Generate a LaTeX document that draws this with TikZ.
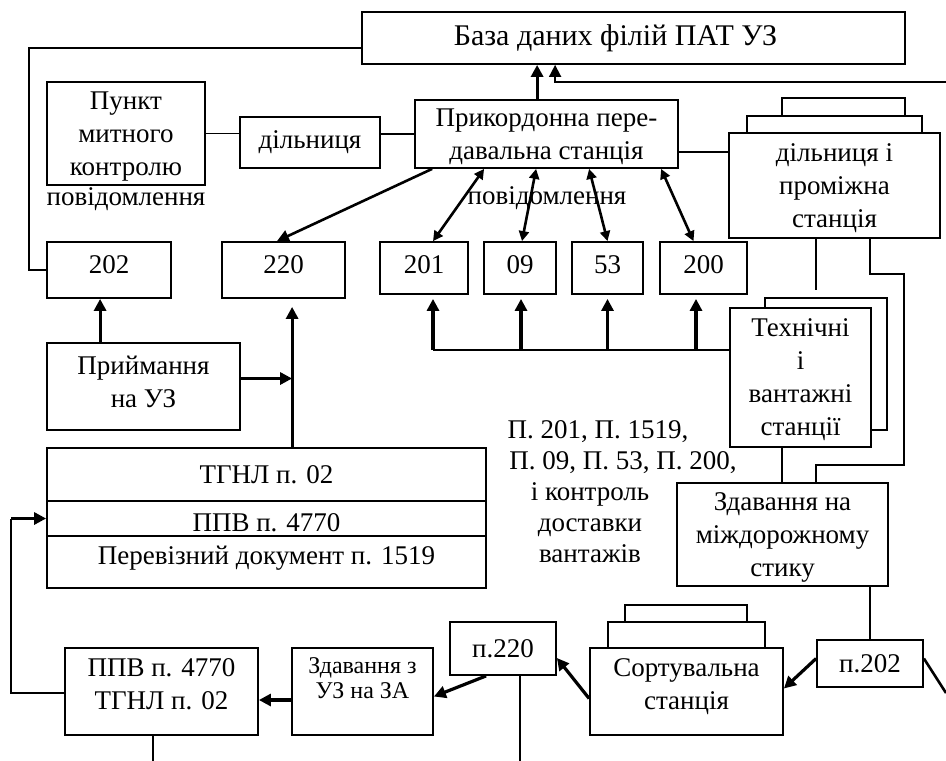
\documentclass[tikz,border=0pt]{standalone}
\usepackage{fontspec}
\setmainfont{Liberation Serif}
\usetikzlibrary{arrows.meta,calc}
\newcommand\boxfont{\fontsize{13.5}{16.5}\selectfont}
\newcommand\titlefont{\fontsize{15}{17}\selectfont}
\newcommand\smallboxfont{\fontsize{12}{12.5}\selectfont}
\begin{document}
\begin{tikzpicture}[x=0.5pt,y=-0.5pt,
  box/.style={draw, line width=0.9pt, inner sep=0pt, fill=white, align=center, font=\boxfont},
  layer/.style={draw, line width=0.9pt, fill=white},
  wire/.style={line width=0.9pt},
  bold/.style={line width=1.6pt, -{Triangle[length=6pt,width=6pt]}},
  dual/.style={line width=1.3pt, {Triangle[length=5pt,width=5pt]}-{Triangle[length=5pt,width=5pt]}},
  txt/.style={align=center, font=\boxfont, inner sep=0pt}]
\useasboundingbox (0,0) rectangle (946,760);

% ---- top row ----
\node[box, font=\titlefont, minimum width=271.5pt, minimum height=26pt] (db) at (633.5,38) {База даних філій ПАТ УЗ\hspace*{18pt}};
\node[box, minimum width=79pt, minimum height=51.5pt, text depth=-2pt] (pm) at (126,133.5) {Пункт\\митного\\контролю};
\node[txt] (pmmsg) at (126,199) {повідомлення};
\node[box, minimum width=70pt, minimum height=25.5pt] (dl) at (310,142.5) {дільниця};
\node[box, minimum width=131.5pt, minimum height=34pt, text depth=-5pt] (pk) at (546.5,134) {Прикордонна пере-\\давальна станція};
\draw[layer] (782,98) rectangle (905,140);
\draw[layer] (747,116) rectangle (922,140);
\node[box, minimum width=105.5pt, minimum height=52.5pt, text depth=-3pt] (dp) at (834.5,185.5) {дільниця і\\проміжна\\станція};

% ---- message boxes ----
\node[box, minimum width=62pt, minimum height=28pt, text depth=5pt] (n202) at (109,270) {202};
\node[box, minimum width=61.5pt, minimum height=28pt, text depth=5pt] (n220) at (283.5,270) {220};
\node[box, minimum width=44pt, minimum height=26pt, text depth=3pt] (n201) at (424,268) {201};
\node[box, minimum width=36pt, minimum height=26pt, text depth=3pt] (n09) at (520,268) {09};
\node[box, minimum width=35.5pt, minimum height=26pt, text depth=3pt] (n53) at (607.5,268) {53};
\node[box, minimum width=43.5pt, minimum height=26pt, text depth=3pt] (n200) at (703.5,268) {200};
\node[txt] (msg) at (547,198) {повідомлення};

% ---- middle ----
\node[box, minimum width=96.5pt, minimum height=43.5pt, text depth=4.5pt] (pr) at (143.5,386.5) {Приймання\\на УЗ};
\draw[layer] (765,298) rectangle (887,430);
\node[box, minimum width=70.5pt, minimum height=69.5pt, text depth=0pt] (ts) at (800.5,377.5) {Технічні\\і\\вантажні\\станції};
\node[box, minimum width=219.5pt, minimum height=26.5pt] (t1) at (266.5,474.5) {ТГНЛ п. 02};
\node[box, minimum width=219.5pt, minimum height=17.5pt, text height=13.5pt] (t2) at (266.5,518.5) {ППВ п. 4770};
\node[box, minimum width=219.5pt, minimum height=26pt, text depth=7pt] (t3) at (266.5,562) {Перевізний документ п. 1519};
\node[txt, font=\fontsize{13.5}{15.5}\selectfont] (note) at (590,492)
  {\hspace*{8pt}П. 201, П. 1519,\\\hspace*{33pt}П. 09, П. 53, П. 200,\\і контроль\\доставки\\вантажів};
\node[box, minimum width=105.5pt, minimum height=51.5pt, text depth=-6pt] (zm) at (782.5,534.5) {Здавання на\\міждорожному\\стику};

% ---- bottom row ----
\node[box, minimum width=96.5pt, minimum height=43.5pt, text depth=7pt] (pv) at (161.5,691.5) {ППВ п. 4770\\ТГНЛ п. 02};
\node[box, font=\smallboxfont, minimum width=70.5pt, minimum height=43.5pt, text depth=13pt] (zz) at (362.5,691.5) {Здавання з\\УЗ на ЗА};
\node[box, minimum width=53pt, minimum height=26.5pt] (p220) at (503,648.5) {п.220};
\draw[layer] (625,605) rectangle (747,640);
\draw[layer] (608,622) rectangle (765,648);
\node[box, minimum width=96.5pt, minimum height=43.5pt, text depth=7pt] (st) at (686.5,691.5) {Сортувальна\\станція};
\node[box, minimum width=53pt, minimum height=23.5pt] (p202) at (870,663.5) {п.202};

% ---- connectors ----
\draw[wire] ($(db.south west)+(0,-17)$) -| ($(n202.west)+(-17,0)$) -- (n202.west);
\draw[wire] (pm.east) -- (pm.east -| dl.west);
\draw[wire] (pk.west -| dl.east) -- (pk.west);
\coordinate (up1) at ($(pk.north west)+(123,0)$);
\draw[bold] (up1) -- (up1 |- db.south);
\coordinate (ret) at (946,82);
\draw[wire, -{Triangle[length=6pt,width=6pt]}] (ret) -| ($(db.south west)+(194,0)$);
\coordinate (c1) at ($(pk.south east)+(0,-17)$);
\draw[wire] (c1) -- (c1 -| dp.west);

\draw[bold, line width=1.3pt] ($(pk.south west)+(18,0)$) -- ($(n220.north)+(-6.5,0)$);
\draw[dual] ($(pk.south west)+(70,0)$) -- ($(n201.north)+(9,0)$);
\draw[dual] ($(pk.south west)+(122,0)$) -- ($(n09.north)+(2,0)$);
\draw[dual] ($(pk.south west)+(175,0)$) -- (n53.north);
\draw[dual] ($(pk.south west)+(247,0)$) -- ($(n200.north)+(-10,0)$);

\coordinate (up2) at ($(pr.north west)+(54,0)$);
\draw[bold] (up2) -- (up2 |- n202.south);
\coordinate (trunk) at ($(t1.north west)+(246,0)$);
\draw[bold, shorten >=4pt] (trunk) -- (trunk |- n220.south);
\coordinate (prr) at ($(pr.east)+(0,-8)$);
\draw[bold] (prr) -- (prr -| trunk);

\coordinate (tsw) at ($(ts.north west)+(0,43)$);
\coordinate (b201) at ($(n201.south)+(9,0)$);
\coordinate (b09) at ($(n09.south)+(1,0)$);
\coordinate (b53) at (n53.south);
\coordinate (b200) at ($(n200.south)+(-7.5,0)$);
\draw[wire] (tsw) -- (tsw -| b201);
\foreach \b in {b201,b09,b53,b200}
  \draw[bold, shorten >=2pt] (tsw -| \b) -- (\b);

\coordinate (d1) at ($(dp.south west)+(88,0)$);
\draw[wire] (d1) -- ++(0,51);
\coordinate (d2) at ($(dp.south west)+(142,0)$);
\coordinate (z2) at ($(zm.north west)+(140,0)$);
\draw[wire] (d2) -- ++(0,35) -- ++(34,0) -- ++(0,191) -| (z2);
\coordinate (tsb) at ($(ts.south west)+(53,0)$);
\draw[wire] (tsb) -- (tsb |- zm.north);
\draw[wire] (p202.north |- zm.south) -- (p202.north);

\draw[bold] ($(p202.west)+(0,-5)$) -- ($(st.east)+(0,-3)$);
\coordinate (off) at (946,693);
\draw[wire, line width=1.3pt] ($(p202.east)+(0,-5)$) -- (off);
\draw[bold] ($(st.west)+(0,7)$) -- ($(p220.east)+(0,9.5)$);
\draw[bold] ($(p220.south west)+(37,0)$) -- ($(zz.east)+(0,5)$);
\draw[wire] ($(p220.south)+(17,0)$) -- ++(0,85);
\draw[bold] ($(zz.west)+(0,8.5)$) -- ($(pv.east)+(0,8.5)$);
\draw[wire] ($(pv.west)+(0,1.5)$) -| ($(t2.west)+(-35,0)$);
\draw[bold] ($(t2.west)+(-35,0)$) -- (t2.west);
\draw[wire] ($(pv.south)+(-8.5,0)$) -- ++(0,25);
\end{tikzpicture}
\end{document}
